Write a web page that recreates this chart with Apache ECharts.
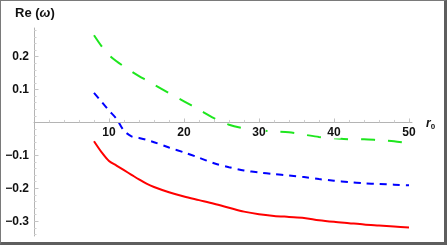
<!DOCTYPE html>
<html><head><meta charset="utf-8">
<script src="https://cdn.jsdelivr.net/npm/echarts@6/dist/echarts.min.js"></script>
<style>
html,body{margin:0;padding:0;background:#fff;}
#c{position:absolute;left:0;top:0;width:447px;height:245px;}
#f{position:absolute;left:0;top:0;border-left:1px solid #7a7a7a;border-top:1px solid #7a7a7a;border-right:3px solid #5e5e5e;border-bottom:3px solid #5e5e5e;pointer-events:none;box-sizing:content-box;width:443px;height:241px;}
</style></head>
<body>
<div id="c"></div><div id="f"></div>
<script>
const xs = [8,9,10,11,12,13,14,15,16,18,20,22,24,26,28,30,32,34,36,38,40,42,44,46,48,50];
const redVals = [-0.057,-0.090,-0.117,-0.131,-0.145,-0.159,-0.173,-0.186,-0.196,-0.212,-0.225,-0.236,-0.247,-0.259,-0.271,-0.279,-0.284,-0.287,-0.290,-0.297,-0.302,-0.306,-0.310,-0.313,-0.316,-0.319];
const blueVals = [0.090,0.063,0.036,0.011,-0.025,-0.042,-0.047,-0.053,-0.060,-0.076,-0.091,-0.107,-0.124,-0.136,-0.146,-0.152,-0.157,-0.161,-0.166,-0.172,-0.177,-0.181,-0.185,-0.187,-0.189,-0.191];
const greenVals = [0.265,0.232,0.205,0.186,0.170,0.155,0.141,0.128,0.115,0.089,0.064,0.039,0.013,-0.007,-0.018,-0.024,-0.027,-0.030,-0.037,-0.044,-0.048,-0.051,-0.051,-0.054,-0.057,-0.064];
const xMajor = [10,20,30,40,50];
const xMinor = [2,4,6,8,12,14,16,18,22,24,26,28,32,34,36,38,42,44,46,48];
const yMajor = [-0.3,-0.2,-0.1,0.1,0.2];
const yMinor = [-0.34,-0.32,-0.28,-0.26,-0.24,-0.22,-0.18,-0.16,-0.14,-0.12,-0.08,-0.06,-0.04,-0.02,0.02,0.04,0.06,0.08,0.12,0.14,0.16,0.18,0.22,0.24,0.26,0.28];

const pair = (vals) => xs.map((x,i)=>[x, vals[i]]);
const font = 'Liberation Sans, Arial, sans-serif';
const fmtY = v => (v < 0 ? '\u2212' + Math.abs(v) : String(v));

const gridTop = 28, gridBottom = 9, H = 245;
const xMin = 0, xMax = 50.4, yMin = -0.345, yMax = 0.287;
const plotH = H - gridTop - gridBottom;
const zeroOffset = -plotH * (0 - yMin) / (yMax - yMin);

const chart = echarts.init(document.getElementById('c'), null, {renderer:'canvas'});
chart.setOption({
  animation:false,
  backgroundColor:'#fff',
  grid:{left:34, right:35, top:gridTop, bottom:gridBottom, containLabel:false, outerBoundsMode:'none'},
  xAxis:[
    {type:'value', min:xMin, max:xMax, z:10, position:'bottom', offset:zeroOffset,
     axisLine:{show:true, onZero:false, lineStyle:{color:'#b4b4b4', width:1}},
     axisTick:{show:true, inside:true, length:4, customValues:xMajor, lineStyle:{color:'#c4c4c4'}},
     axisLabel:{show:true, customValues:xMajor, margin:4, fontSize:12, fontWeight:'bold', color:'#111', fontFamily:font, backgroundColor:'#fff'},
     splitLine:{show:false}},
    {type:'value', min:xMin, max:xMax, position:'bottom', offset:zeroOffset, z:10,
     axisLine:{show:false, onZero:false},
     axisTick:{show:true, inside:true, length:2.5, customValues:xMinor, lineStyle:{color:'#cfcfcf'}},
     axisLabel:{show:false}, splitLine:{show:false}}
  ],
  yAxis:[
    {type:'value', min:yMin, max:yMax, z:10,
     axisLine:{show:true, onZero:false, lineStyle:{color:'#b4b4b4', width:1}},
     axisTick:{show:true, inside:true, length:4.5, customValues:yMajor, lineStyle:{color:'#c4c4c4'}},
     axisLabel:{show:true, customValues:yMajor, margin:5, fontSize:12, fontWeight:'bold', color:'#111', fontFamily:font, formatter:fmtY},
     splitLine:{show:false}},
    {type:'value', min:yMin, max:yMax, position:'left', z:10,
     axisLine:{show:false, onZero:false},
     axisTick:{show:true, inside:true, length:2.5, customValues:yMinor, lineStyle:{color:'#cfcfcf'}},
     axisLabel:{show:false}, splitLine:{show:false}}
  ],
  series:[
    {type:'line', data:pair(greenVals), smooth:0.3, symbol:'none', xAxisIndex:0, yAxisIndex:0,
     lineStyle:{color:'#1ee61e', width:2, type:[14,13]}},
    {type:'line', data:pair(blueVals), smooth:0.3, symbol:'none', xAxisIndex:0, yAxisIndex:0,
     lineStyle:{color:'#0000ff', width:2, type:[7,6]}},
    {type:'line', data:pair(redVals), smooth:0.3, symbol:'none', xAxisIndex:0, yAxisIndex:0,
     lineStyle:{color:'#ff0000', width:2}}
  ],
  graphic:[
    {type:'text', left:15, top:7, z:20, style:{
      text:'{b|Re (}{i|ω}{b|)}',
      rich:{b:{fontSize:13, fontWeight:'bold', fontFamily:font, fill:'#111'},
            i:{fontSize:13, fontWeight:'bold', fontStyle:'italic', fontFamily:font, fill:'#111'}}}},
    {type:'text', left:426, top:118, z:20, style:{
      text:'{r|r}{s|0}',
      rich:{r:{fontSize:12, fontWeight:'bold', fontStyle:'italic', fontFamily:font, fill:'#111'},
            s:{fontSize:8, fontWeight:'bold', fontFamily:font, fill:'#111', padding:[5,0,0,0]}}}}
  ]
});
</script>
</body></html>
